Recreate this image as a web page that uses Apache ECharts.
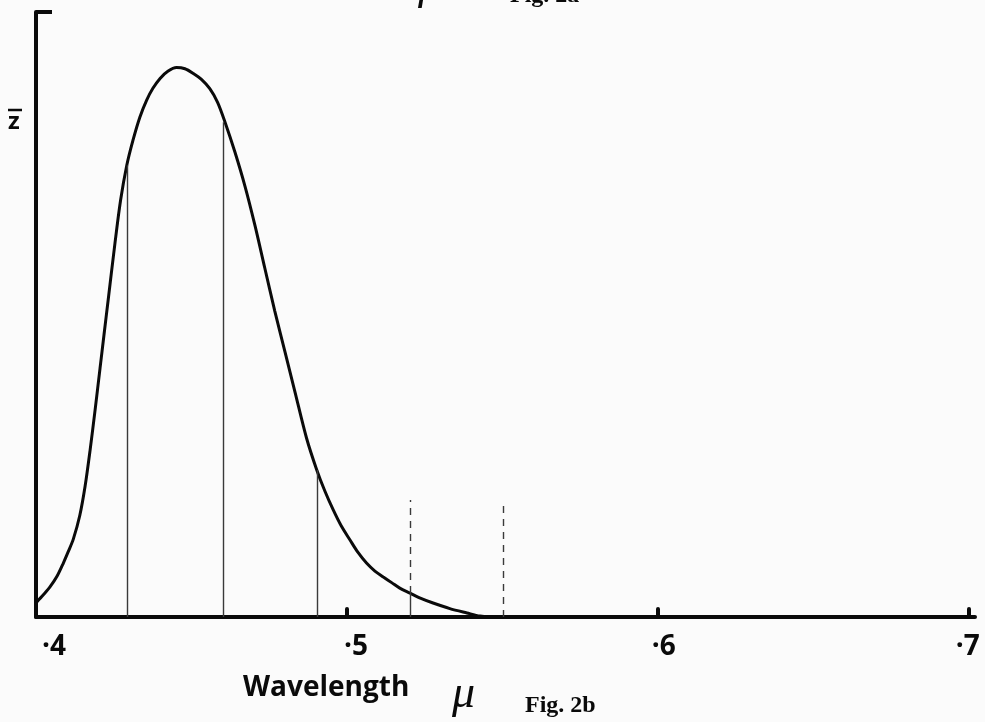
<!DOCTYPE html>
<html>
<head>
<meta charset="utf-8">
<script src="https://cdn.jsdelivr.net/npm/echarts@6/dist/echarts.min.js"></script>
<style>
  html, body { margin: 0; padding: 0; background: #fbfbfb; }
  #chart { width: 985px; height: 722px; }
</style>
</head>
<body>
<div id="chart"></div>
<script>
// z-bar distribution coefficient against wavelength (microns)
const wavelength = [
  0.4002, 0.4023, 0.4045, 0.4068, 0.4088, 0.4103, 0.4120, 0.4141, 0.4158, 0.4174,
  0.4190, 0.4206, 0.4219, 0.4232, 0.4254, 0.4272, 0.4292, 0.4312, 0.4334, 0.4356,
  0.4376, 0.4399, 0.4424, 0.4452, 0.4479, 0.4506, 0.4532, 0.4559, 0.4584, 0.4608,
  0.4640, 0.4672, 0.4704, 0.4736, 0.4768, 0.4801, 0.4833, 0.4870, 0.4903, 0.4929,
  0.4956, 0.4982, 0.5010, 0.5035, 0.5063, 0.5090, 0.5117, 0.5145, 0.5170, 0.5203,
  0.5238, 0.5277, 0.5331, 0.5386, 0.5428, 0.5469, 0.5502];
const zBar = [
  0.048, 0.071, 0.097, 0.132, 0.174, 0.209, 0.251, 0.328, 0.422, 0.538,
  0.667, 0.802, 0.912, 1.021, 1.205, 1.343, 1.456, 1.537, 1.611, 1.666,
  1.704, 1.736, 1.759, 1.771, 1.767, 1.752, 1.733, 1.703, 1.659, 1.595,
  1.498, 1.389, 1.263, 1.124, 0.986, 0.854, 0.725, 0.577, 0.474, 0.406,
  0.345, 0.293, 0.248, 0.209, 0.174, 0.148, 0.129, 0.110, 0.093, 0.077,
  0.060, 0.045, 0.027, 0.013, 0.003, 0.000, 0.000];

// solid ordinates drawn from the axis up to the curve
const ordinateWavelength = [0.4292, 0.4602, 0.4903, 0.5203];
const ordinateHeight = [1.456, 1.595, 0.474, 0.077];

// broken guide lines
const guideWavelength = [0.5203, 0.5503];
const guideFrom = [0.077, 0.0];
const guideTo = [0.377, 0.370];

// axis ticks and labels
const tickValues = [0.5, 0.6, 0.7];
const labelValues = [0.4, 0.5, 0.6, 0.7];
const tickText = ['·4', '·5', '·6', '·7'];

const curve = wavelength.map((w, i) => [w, zBar[i]]);

const markData = [];
ordinateWavelength.forEach((w, i) => {
  markData.push([
    { coord: [w, 0], lineStyle: { type: 'solid', color: '#3a3a3a', width: 1.4 } },
    { coord: [w, ordinateHeight[i]] }
  ]);
});
guideWavelength.forEach((w, i) => {
  markData.push([
    { coord: [w, guideFrom[i]], lineStyle: { type: [7, 6], color: '#3a3a3a', width: 1.4 } },
    { coord: [w, guideTo[i]] }
  ]);
});

// hand-lettered tick labels sit a little off their ticks
const labelFont = { fontFamily: 'Open Sans', fontWeight: 700, fontSize: 28, color: '#0a0a0a' };
const labelRich = {
  t0: Object.assign({ padding: [0, 0, 0, 36] }, labelFont),
  t1: Object.assign({ padding: [0, 0, 0, 18] }, labelFont),
  t2: Object.assign({ padding: [0, 0, 0, 12] }, labelFont),
  t3: Object.assign({ padding: [0, 2, 0, 0] }, labelFont)
};

const chart = echarts.init(document.getElementById('chart'), null, { renderer: 'canvas' });

chart.setOption({
  backgroundColor: '#fbfbfb',
  animation: false,
  grid: { left: 36, right: 10, top: 12, bottom: 105, containLabel: false, outerBoundsMode: 'none' },
  xAxis: {
    type: 'value',
    min: 0.4,
    max: 0.702,
    interval: 0.1,
    splitLine: { show: false },
    axisLine: { show: true, lineStyle: { color: '#0a0a0a', width: 4, cap: 'round' } },
    axisTick: {
      show: true,
      inside: true,
      length: 8,
      customValues: tickValues,
      lineStyle: { color: '#0a0a0a', width: 4, cap: 'round' }
    },
    axisLabel: {
      show: true,
      customValues: labelValues,
      margin: 16,
      formatter: function (v) {
        const k = labelValues.findIndex(t => Math.abs(t - v) < 1e-6);
        return k >= 0 ? '{t' + k + '|' + tickText[k] + '}' : '';
      },
      rich: labelRich
    }
  },
  yAxis: {
    type: 'value',
    min: 0,
    max: 1.95,
    splitLine: { show: false },
    axisTick: { show: false },
    axisLabel: { show: false },
    axisLine: { show: true, lineStyle: { color: '#0a0a0a', width: 4 } }
  },
  series: [{
    type: 'line',
    data: curve,
    smooth: 0.3,
    showSymbol: false,
    symbol: 'none',
    lineStyle: { color: '#0a0a0a', width: 3 },
    z: 3,
    markLine: {
      silent: true,
      symbol: ['none', 'none'],
      label: { show: false },
      animation: false,
      data: markData
    }
  }],
  graphic: [
    // small flag at the head of the vertical axis
    { type: 'line', shape: { x1: 36, y1: 12, x2: 52, y2: 12 }, style: { stroke: '#0a0a0a', lineWidth: 4 } },
    // z with its bar
    { type: 'line', shape: { x1: 8, y1: 110, x2: 22, y2: 110 }, style: { stroke: '#0a0a0a', lineWidth: 2.5 } },
    { type: 'text', left: 8, top: 110, style: { text: 'z', font: '700 24px "Open Sans"', fill: '#0a0a0a' } },
    { type: 'text', left: 243, top: 674, style: { text: 'Wavelength', font: '700 28px "Open Sans"', fill: '#0a0a0a' } },
    { type: 'text', left: 452, top: 672, style: { text: 'μ', font: 'italic 46px "Liberation Serif"', fill: '#0a0a0a' } },
    { type: 'text', left: 525, top: 694, style: { text: 'Fig. 2b', font: 'bold 24px "Liberation Serif"', fill: '#0a0a0a' } },
    { type: 'text', x: 510, y: 8, style: { text: 'Fig. 2a', font: 'bold 24px "Liberation Serif"', fill: '#0a0a0a', verticalAlign: 'bottom' } },
    { type: 'text', x: 418, y: 9, style: { text: 'μ', font: 'italic 46px "Liberation Serif"', fill: '#0a0a0a', verticalAlign: 'bottom' } }
  ]
});
</script>
</body>
</html>
